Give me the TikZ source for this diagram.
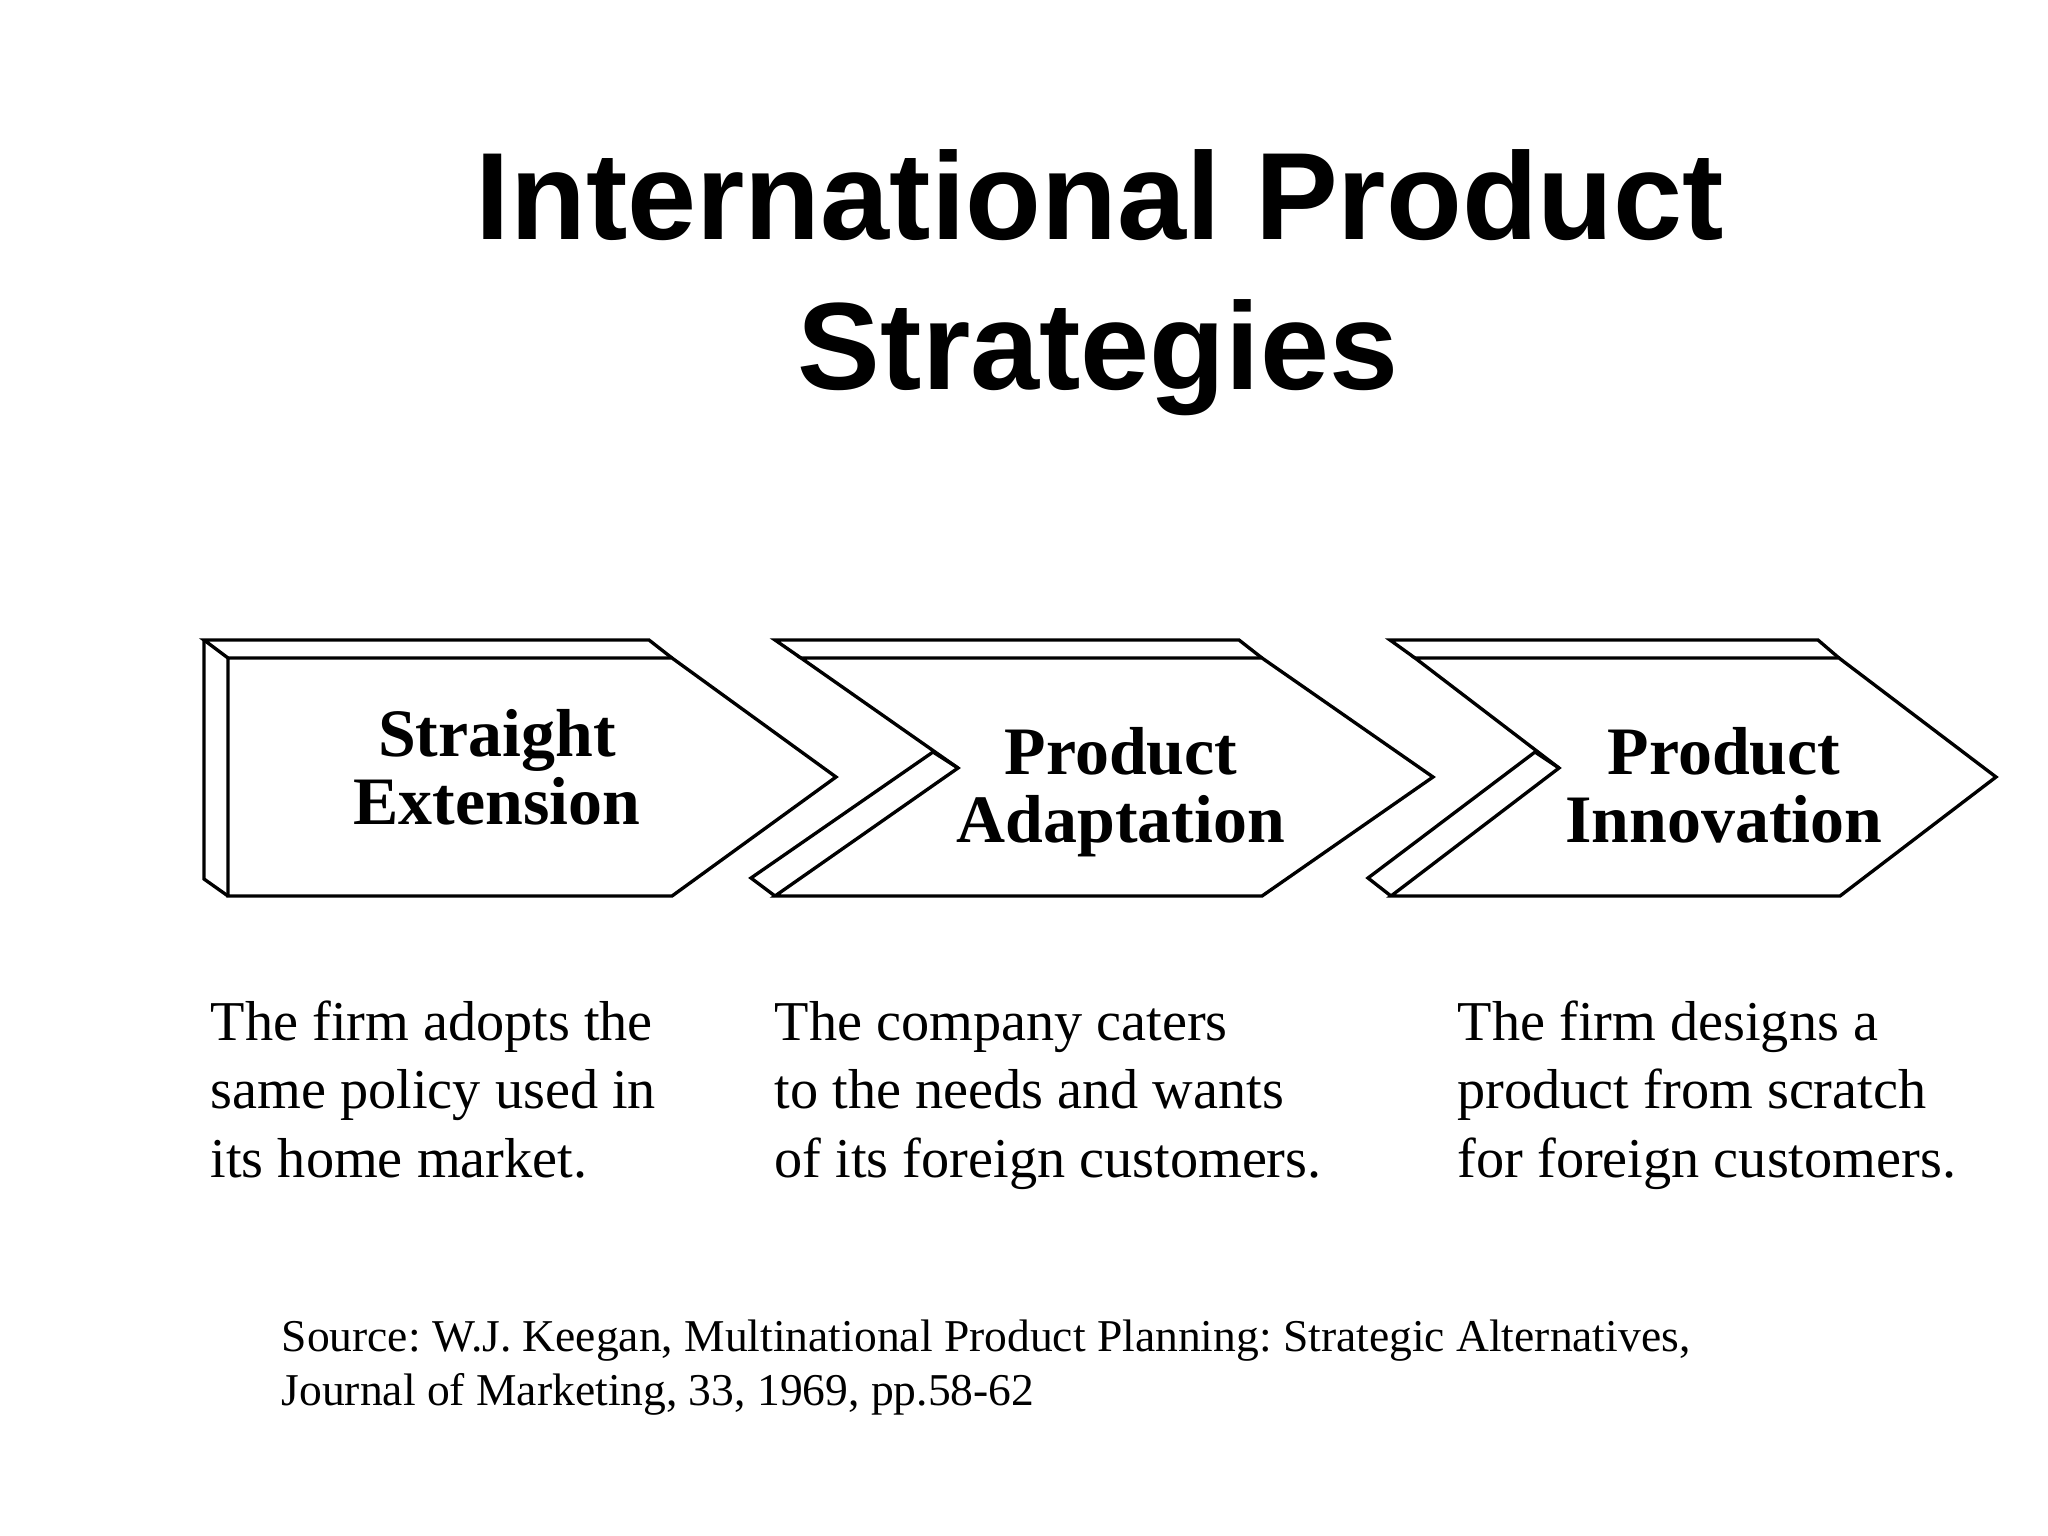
\documentclass[tikz,border=0pt]{standalone}
\usepackage{fontspec}
\setmainfont{Liberation Serif}
\newfontfamily\headfont{Liberation Sans}
\frenchspacing
\tikzset{
  box/.style={line width=0.95pt, line join=miter},
  heading/.style={font=\headfont\bfseries\fontsize{35.3}{42.7}\selectfont, anchor=base, inner sep=0pt},
  tag/.style={font=\bfseries\fontsize{19.3}{19.1}\selectfont, align=center, anchor=base, inner sep=0pt},
  blurb/.style={font=\fontsize{16}{19.35}\selectfont, align=left, anchor=base west, inner sep=0pt},
  cite/.style={font=\fontsize{12.95}{15.1}\selectfont, align=left, anchor=base west, inner sep=0pt},
}
\begin{document}
\begin{tikzpicture}[x=0.01cm, y=-0.01cm]
    \useasboundingbox (0,0) rectangle (2048,1536);
    % title
    \node[heading] (title) at (1100,239) {International Product};
    \node[heading] (subtitle) at (1098,389) {Strategies};
    % first block: plain box with depth on the left
    \draw[box] (228,658) -- (672,658) -- (836,777) -- (672,896) -- (228,896) -- cycle;
    \draw[box] (228,658) -- (204,640) -- (649,640) -- (672,658);
    \draw[box] (204,640) -- (204,879) -- (228,896);
    % second block
    \draw[box] (801,658) -- (1262,658) -- (1433,777) -- (1262,896) -- (775,896) -- (958,768) -- cycle;
    \draw[box] (801,658) -- (775,640) -- (1239,640) -- (1262,658);
    \draw[box] (958,768) -- (933,752) -- (751,878) -- (775,896);
    % third block
    \draw[box] (1415,658) -- (1839,658) -- (1996,777) -- (1840,896) -- (1391,896) -- (1559,768) -- cycle;
    \draw[box] (1415,658) -- (1390,640) -- (1818,640) -- (1839,658);
    \draw[box] (1559,768) -- (1535,752) -- (1368,878) -- (1391,896);
    % labels (base = last line)
    \node[tag] (ext) at (497,824) {Straight\\Extension};
    \node[tag] (adapt) at (1121,842) {Product\\Adaptation};
    \node[tag] (innov) at (1724,842) {Product\\Innovation};
    % descriptions
    \node[blurb] (extdesc) at (210,1177) {The firm adopts the\\same policy used in\\its home market.};
    \node[blurb] (adaptdesc) at (774,1177) {The company caters\\to the needs and wants\\of its foreign customers.};
    \node[blurb] (innovdesc) at (1457,1177) {The firm designs a\\product from scratch\\for foreign customers.};
    % source
    \node[cite] (source) at (281,1405) {Source: W.J. Keegan, Multinational Product Planning: Strategic Alternatives,\\Journal of Marketing, 33, 1969, pp.58-62};
\end{tikzpicture}
\end{document}
